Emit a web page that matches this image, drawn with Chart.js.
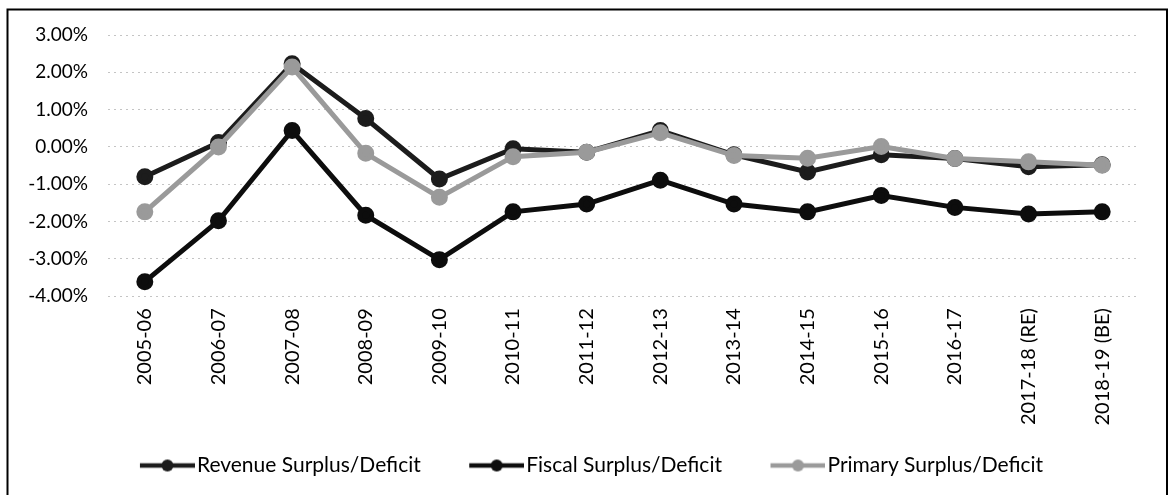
<!DOCTYPE html>
<html>
<head>
<meta charset="utf-8">
<script src="https://cdn.jsdelivr.net/npm/chart.js@4.4.1/dist/chart.umd.min.js"></script>
<style>
  html, body { margin: 0; padding: 0; background: #fff; }
  #wrap { position: relative; width: 1173px; height: 495px; }
</style>
</head>
<body>
<div id="wrap"><canvas id="c" width="1173" height="495"></canvas></div>
<script>
const categories = ['2005-06','2006-07','2007-08','2008-09','2009-10','2010-11','2011-12','2012-13','2013-14','2014-15','2015-16','2016-17','2017-18 (RE)','2018-19 (BE)'];
const revenueSurplus = [-0.80, 0.12, 2.23, 0.76, -0.86, -0.05, -0.14, 0.44, -0.21, -0.67, -0.21, -0.31, -0.53, -0.48];
const fiscalSurplus  = [-3.61, -1.98, 0.44, -1.83, -3.02, -1.74, -1.53, -0.89, -1.53, -1.74, -1.30, -1.62, -1.80, -1.74];
const primarySurplus = [-1.74, 0.00, 2.14, -0.17, -1.35, -0.26, -0.14, 0.38, -0.23, -0.30, 0.01, -0.31, -0.40, -0.49];
const seriesNames = ['Revenue Surplus/Deficit', 'Fiscal Surplus/Deficit', 'Primary Surplus/Deficit'];
const yTicks = [3, 2, 1, 0, -1, -2, -3, -4];

const colors = ['#1c1c1c', '#0d0d0d', '#9a9a9a'];
const BW = 85;
function makeIcon(color) {
  const W = BW + 17;
  const c = document.createElement('canvas');
  c.width = W; c.height = 14;
  const x = c.getContext('2d');
  x.strokeStyle = color; x.lineWidth = 4.5;
  x.beginPath(); x.moveTo(W - 55, 7); x.lineTo(W, 7); x.stroke();
  x.fillStyle = color;
  x.beginPath(); x.arc(W - 27.5, 7, 6, 0, Math.PI * 2); x.fill();
  return c;
}
const icons = colors.map(makeIcon);

const framePlugin = {
  id: 'frame',
  beforeDraw(chart) {
    const ctx = chart.ctx;
    ctx.save();
    ctx.fillStyle = '#fff';
    ctx.fillRect(0, 0, chart.width, chart.height);
    ctx.restore();
  },
  afterDraw(chart) {
    const ctx = chart.ctx;
    ctx.save();
    ctx.strokeStyle = '#000';
    ctx.lineWidth = 2;
    ctx.beginPath();
    ctx.moveTo(7.5, 495);
    ctx.lineTo(7.5, 9.5);
    ctx.lineTo(1167, 9.5);
    ctx.lineTo(1167, 495);
    ctx.stroke();
    ctx.restore();
  }
};

const mk = (i, data, order) => ({
  label: seriesNames[i],
  data: data,
  borderColor: colors[i],
  backgroundColor: colors[i],
  pointBackgroundColor: colors[i],
  pointBorderColor: colors[i],
  borderWidth: 5,
  pointRadius: 6,
  pointHoverRadius: 6,
  tension: 0,
  order: order
});

new Chart(document.getElementById('c'), {
  type: 'line',
  data: {
    labels: categories,
    datasets: [mk(0, revenueSurplus, 1), mk(1, fiscalSurplus, 2), mk(2, primarySurplus, 0)]
  },
  plugins: [framePlugin],
  options: {
    responsive: false,
    animation: false,
    layout: { padding: { top: 35, right: 34, bottom: 9, left: 5.5 } },
    scales: {
      x: {
        offset: true,
        grid: { display: false, drawTicks: false },
        border: { display: false },
        ticks: {
          minRotation: 90, maxRotation: 90, autoSkip: false, padding: 12,
          color: '#000',
          font: { family: 'Lato', size: 20 }
        },
        afterFit(scale) { scale.height = 148.8; }
      },
      y: {
        min: -4, max: 3,
        afterBuildTicks(scale) { scale.ticks = yTicks.map(v => ({ value: v })); },
        grid: { color: '#c4c4c4', lineWidth: 1, drawTicks: false },
        border: { display: false, dash: [2, 4] },
        ticks: {
          padding: 20, color: '#000',
          font: { family: 'Lato', size: 19 },
          callback: v => v.toFixed(2) + '%'
        },
        afterFit(scale) { scale.width = 102.5; }
      }
    },
    plugins: {
      tooltip: { enabled: false },
      legend: {
        position: 'bottom',
        labels: {
          usePointStyle: true,
          pointStyleWidth: BW,
          padding: 10,
          color: '#000',
          font: { family: 'Lato', size: 21, lineHeight: 1.2 },
          sort: (a, b) => a.datasetIndex - b.datasetIndex,
          generateLabels(chart) {
            const items = Chart.defaults.plugins.legend.labels.generateLabels(chart);
            items.forEach(it => { it.pointStyle = icons[it.datasetIndex]; });
            return items;
          }
        }
      }
    }
  }
});
</script>
</body>
</html>
